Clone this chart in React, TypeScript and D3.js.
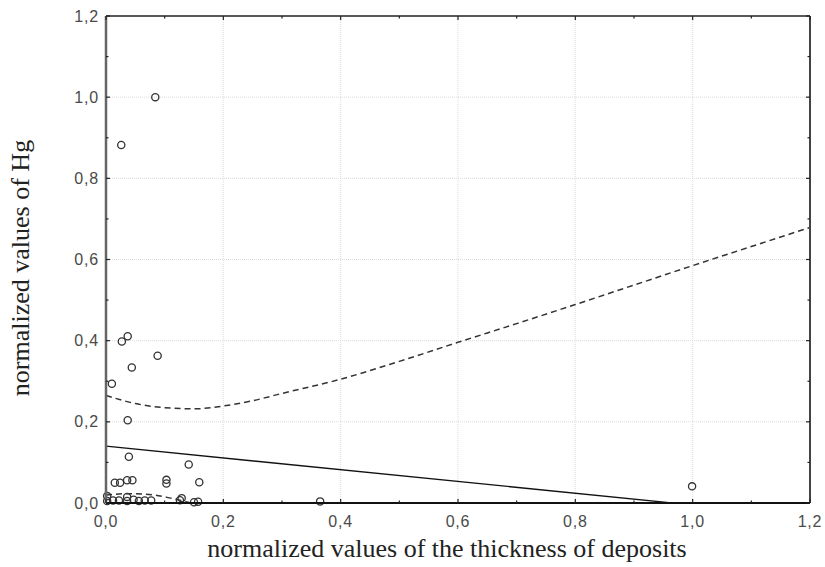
import { useEffect, useRef } from "react";
import * as d3 from "d3";

// scatter points: normalized thickness of deposits (x) vs normalized Hg (y)
const thickness = [
  0.084, 0.026, 0.027, 0.037, 0.088, 0.044, 0.01, 0.037, 0.039, 0.141,
  0.103, 0.103, 0.159, 0.015, 0.024, 0.036, 0.045, 0.002, 0.002, 0.012,
  0.022, 0.036, 0.036, 0.047, 0.056, 0.066, 0.077, 0.126, 0.129, 0.15,
  0.157, 0.365, 0.999,
];
const mercury = [
  1.0, 0.882, 0.398, 0.411, 0.363, 0.334, 0.294, 0.204, 0.114, 0.095,
  0.057, 0.048, 0.051, 0.05, 0.05, 0.056, 0.056, 0.017, 0.005, 0.006,
  0.006, 0.015, 0.005, 0.008, 0.005, 0.006, 0.006, 0.007, 0.012, 0.002,
  0.003, 0.004, 0.041,
];

// fitted line (read at both ends)
const fitX = [0, 1.2];
const fitY = [0.14, -0.034];

// 95% band
const upperX = [0, 0.05, 0.1, 0.15, 0.2, 0.25, 0.3, 0.4, 0.5, 0.6, 0.7, 0.8, 0.9, 1.0, 1.1, 1.2];
const upperY = [0.265, 0.245, 0.235, 0.232, 0.239, 0.252, 0.27, 0.305, 0.349, 0.396, 0.442, 0.489, 0.537, 0.585, 0.632, 0.679];
const lowerX = [0, 0.04, 0.08, 0.11, 0.14, 0.17];
const lowerY = [0.02, 0.023, 0.02, 0.012, 0.002, -0.012];

const majorTicks = [0, 0.2, 0.4, 0.6, 0.8, 1.0, 1.2];
const minorTicks = [0.1, 0.3, 0.5, 0.7, 0.9, 1.1];

const fmt = (v: number) => d3.format(".1f")(v).replace(".", ",");

export default function App() {
  const ref = useRef<SVGSVGElement | null>(null);

  useEffect(() => {
    if (!ref.current) return;
    ref.current.innerHTML = "";

    const width = 825,
      height = 567;
    const margin = { top: 16, right: 15, bottom: 64, left: 106 };
    const x0 = margin.left,
      x1 = width - margin.right,
      y0 = height - margin.bottom,
      y1 = margin.top;

    const x = d3.scaleLinear().domain([0, 1.2]).range([x0, x1]);
    const y = d3.scaleLinear().domain([0, 1.2]).range([y0, y1]);

    const svg = d3.select(ref.current);

    svg
      .append("defs")
      .append("clipPath")
      .attr("id", "plot-clip")
      .append("rect")
      .attr("x", x0)
      .attr("y", y1)
      .attr("width", x1 - x0)
      .attr("height", y0 - y1);

    // grid
    const grid = svg.append("g").attr("stroke", "#dcdcdc").attr("stroke-width", 1).attr("stroke-dasharray", "1,1");
    majorTicks.slice(1, -1).forEach((t) => {
      grid.append("line").attr("x1", x(t)).attr("x2", x(t)).attr("y1", y1).attr("y2", y0);
      grid.append("line").attr("x1", x0).attr("x2", x1).attr("y1", y(t)).attr("y2", y(t));
    });

    const plot = svg.append("g").attr("clip-path", "url(#plot-clip)");

    // regression line
    plot
      .append("path")
      .datum(fitX.map((d, i) => [d, fitY[i]] as [number, number]))
      .attr("fill", "none")
      .attr("stroke", "#111")
      .attr("stroke-width", 1.3)
      .attr("d", d3.line().x((d) => x(d[0])).y((d) => y(d[1])));

    // confidence bands
    const band = d3.line().curve(d3.curveMonotoneX).x((d) => x(d[0])).y((d) => y(d[1]));
    [
      upperX.map((d, i) => [d, upperY[i]] as [number, number]),
      lowerX.map((d, i) => [d, lowerY[i]] as [number, number]),
    ].forEach((pts) => {
      plot
        .append("path")
        .datum(pts)
        .attr("fill", "none")
        .attr("stroke", "#333")
        .attr("stroke-width", 1.5)
        .attr("stroke-dasharray", "6,4")
        .attr("d", band);
    });

    // points
    svg
      .append("g")
      .selectAll("circle")
      .data(thickness.map((d, i) => [d, mercury[i]]))
      .join("circle")
      .attr("cx", (d) => x(d[0]))
      .attr("cy", (d) => y(d[1]))
      .attr("r", 3.6)
      .attr("fill", "none")
      .attr("stroke", "#333")
      .attr("stroke-width", 1.3);

    // frame
    const frame = svg.append("g").attr("fill", "none");
    frame.append("line").attr("x1", x0).attr("x2", x1).attr("y1", y1).attr("y2", y1).attr("stroke", "#222").attr("stroke-width", 1.5);
    frame.append("line").attr("x1", x0).attr("x2", x1).attr("y1", y0).attr("y2", y0).attr("stroke", "#111").attr("stroke-width", 2);
    frame.append("line").attr("x1", x0).attr("x2", x0).attr("y1", y1).attr("y2", y0).attr("stroke", "#666").attr("stroke-width", 2.5);
    frame.append("line").attr("x1", x1).attr("x2", x1).attr("y1", y1).attr("y2", y0).attr("stroke", "#444").attr("stroke-width", 2);

    // inward ticks on all four sides
    const ticks = svg.append("g").attr("stroke", "#222").attr("stroke-width", 1.2);
    const addTicks = (vals: number[], len: number) => {
      vals.forEach((t) => {
        ticks.append("line").attr("x1", x(t)).attr("x2", x(t)).attr("y1", y0).attr("y2", y0 - len);
        ticks.append("line").attr("x1", x(t)).attr("x2", x(t)).attr("y1", y1).attr("y2", y1 + len);
        ticks.append("line").attr("x1", x0).attr("x2", x0 + len).attr("y1", y(t)).attr("y2", y(t));
        ticks.append("line").attr("x1", x1).attr("x2", x1 - len).attr("y1", y(t)).attr("y2", y(t));
      });
    };
    addTicks(majorTicks, 4);
    addTicks(minorTicks, 2.5);

    // tick labels
    const labels = svg
      .append("g")
      .attr("font-family", "'Liberation Sans', Arial, sans-serif")
      .attr("font-size", 16)
      .attr("fill", "#4a4a4a")
      .attr("letter-spacing", 0.8);
    majorTicks.forEach((t) => {
      labels.append("text").attr("x", x(t)).attr("y", y0 + 24).attr("text-anchor", "middle").text(fmt(t));
      labels.append("text").attr("x", x0 - 7).attr("y", y(t)).attr("dy", "0.35em").attr("text-anchor", "end").text(fmt(t));
    });

    // axis titles
    const titles = svg
      .append("g")
      .attr("font-family", "'Liberation Serif', 'Times New Roman', serif")
      .attr("font-size", 26)
      .attr("fill", "#222");
    titles
      .append("text")
      .attr("x", 447)
      .attr("y", 557)
      .attr("text-anchor", "middle")
      .text("normalized values of the thickness of deposits");
    titles
      .append("text")
      .attr("transform", "translate(29,268) rotate(-90)")
      .attr("text-anchor", "middle")
      .text("normalized values of Hg");
  }, []);

  return (
    <svg
      ref={ref}
      width={825}
      height={567}
      style={{ position: "absolute", left: 0, top: 0, background: "#fff" }}
    />
  );
}
